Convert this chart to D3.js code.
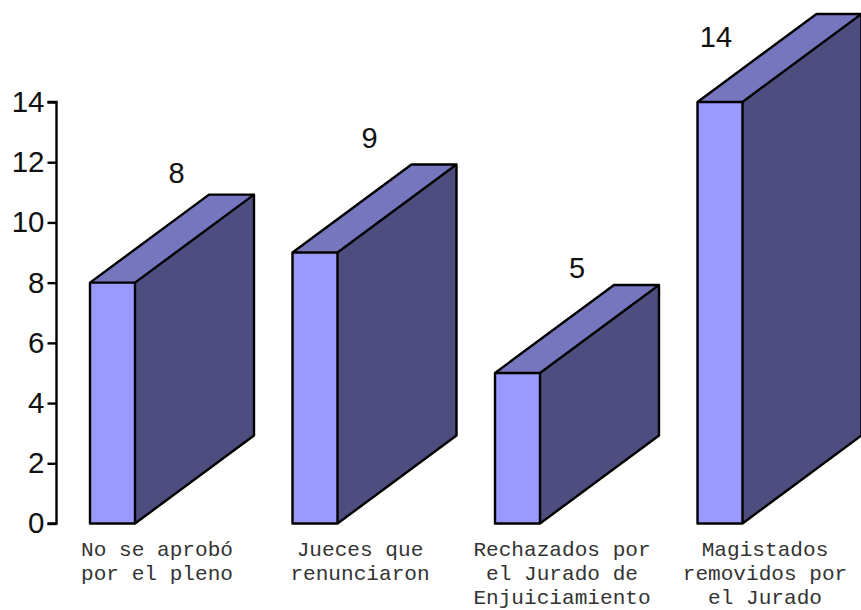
<!DOCTYPE html>
<html><head><meta charset="utf-8">
<script src="https://cdn.jsdelivr.net/npm/d3@7/dist/d3.min.js"></script>
<style>html,body{margin:0;padding:0;background:#fff}svg{display:block}</style>
</head><body><svg id="c" width="861" height="610"></svg>
<script>
const categories = [["No se aprobó","por el pleno"],["Jueces que","renunciaron"],["Rechazados por","el Jurado de","Enjuiciamiento"],["Magistados","removidos por","el Jurado"]];
const values = [8,9,5,14];
const valueLabels = ["8","9","5","14"];
const tickValues = [0,2,4,6,8,10,12,14];

const svg = d3.select("#c");
const y = d3.scaleLinear().domain([0,14]).range([523.5,102]);
const step = 202.5, barW = 45, dx = 119, dy = 88;
const xL = i => 90 + i*step;

const g = svg.append("g");
values.forEach((v,i)=>{
  const x0 = xL(i), x1 = x0+barW, yt = y(v), yb = y(0);
  const pts = a => a.map(p=>p.join(",")).join(" ");
  g.append("polygon").attr("points",pts([[x1,yt],[x1+dx,yt-dy],[x1+dx,yb-dy],[x1,yb]])).attr("fill","#4d4d80");
  g.append("polygon").attr("points",pts([[x0,yt],[x1,yt],[x1+dx,yt-dy],[x0+dx,yt-dy]])).attr("fill","#7676bf");
  g.append("rect").attr("x",x0).attr("y",yt).attr("width",barW).attr("height",yb-yt).attr("fill","#9999ff");
  g.append("path").attr("d",`M${x0},${yb}V${yt}H${x1}V${yb}Z M${x0},${yt}L${x0+dx},${yt-dy}H${x1+dx}L${x1},${yt} M${x1+dx},${yt-dy}V${yb-dy}L${x1},${yb}`)
    .attr("fill","none").attr("stroke","#000").attr("stroke-width",2.4).attr("stroke-linejoin","round");
});

const labelPos = [[176.5,173],[369.5,138],[577,268],[716,37]];
svg.append("g").selectAll("text").data(valueLabels).join("text")
  .attr("x",(d,i)=>labelPos[i][0]).attr("y",(d,i)=>labelPos[i][1]+10)
  .attr("text-anchor","middle").attr("font-family","Liberation Sans").attr("font-size",29).attr("fill","#111").text(d=>d);

const axis = d3.axisLeft(y).tickValues(tickValues).tickSize(9).tickPadding(3);
const ax = svg.append("g").attr("transform","translate(56.5,0)").call(axis);
ax.selectAll(".domain").attr("stroke","#000").attr("stroke-width",2.4).attr("d",`M-9,${y(14)}H0V${y(0)}H-9`);
ax.selectAll(".tick line").attr("stroke","#000").attr("stroke-width",2.4);
ax.selectAll("text").attr("font-family","Liberation Sans").attr("font-size",29.5).attr("fill","#111");

const centers = [157,360,562,765];
categories.forEach((lines,i)=>{
  const t = svg.append("text").attr("text-anchor","middle").attr("font-family","Liberation Mono").attr("font-size",21.1).attr("fill","#333");
  lines.forEach((l,j)=>t.append("tspan").attr("x",centers[i]).attr("y",556+j*24).text(l));
});
</script></body></html>
